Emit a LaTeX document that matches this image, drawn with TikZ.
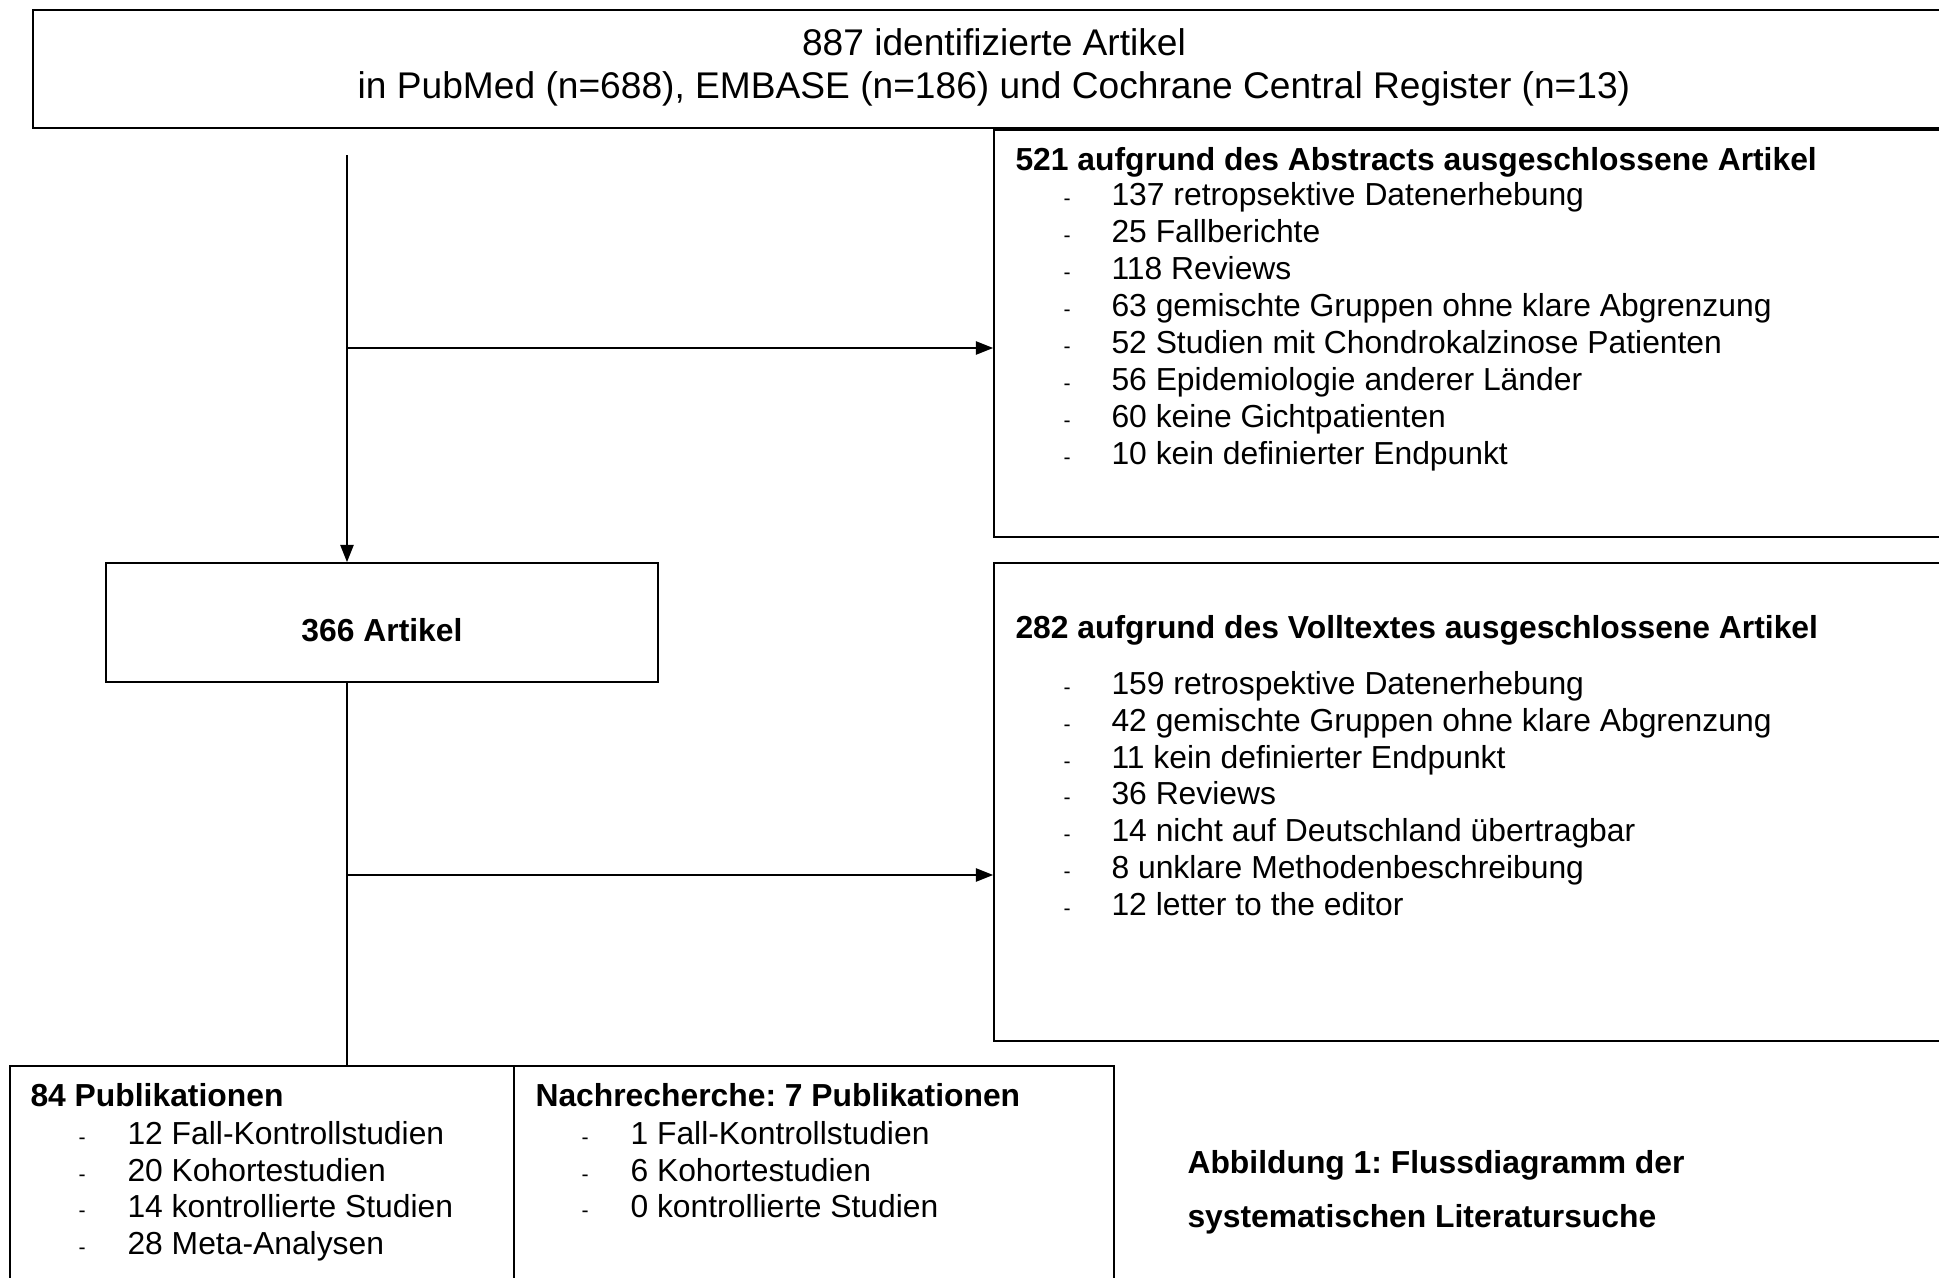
\documentclass[tikz,border=0pt]{standalone}
\usepackage{fontspec}
\setmainfont{Liberation Sans}
\usetikzlibrary{arrows.meta,fit}
\frenchspacing
\begin{document}
\begin{tikzpicture}[x=0.377pt,y=-0.377pt,
  box/.style={draw,line width=0.65pt,inner sep=0pt},
  conn/.style={line width=0.65pt},
  arr/.style={conn,-{Triangle[length=6.5pt,width=5pt]}},
  txt/.style={anchor=base west,inner sep=0pt,font=\fontsize{12}{14}\selectfont},
  hd/.style={anchor=base west,inner sep=0pt,font=\fontsize{12}{14}\selectfont\bfseries},
  dsh/.style={anchor=base west,inner sep=0pt,font=\fontsize{8}{8}\selectfont}]
\useasboundingbox (0,0) rectangle (1939,1277);
\clip (0,0) rectangle (1939,1277);

% boxes
\node[box,fit={(994,130)(1960,537)}] (ex1) {};
\node[box,line width=0.9pt,fit={(33,10)(1960,128)}] (top) {};
\node[box,fit={(106,563)(658,682)}] (art) {};
\node[box,fit={(994,563)(1960,1041)}] (ex2) {};
\node[box,fit={(10,1066)(514,1300)}] (pub) {};
\node[box,fit={(514,1066)(1114,1300)}] (nach) {};

% top text
\node[anchor=base,inner sep=0pt,font=\fontsize{14}{16}\selectfont] (t1) at (994,55) {887 identifizierte Artikel};
\node[anchor=base,inner sep=0pt,font=\fontsize{14}{16}\selectfont] (t2) at (994,98) {in PubMed (n=688), EMBASE (n=186) und Cochrane Central Register (n=13)};

% 366 Artikel
\node[anchor=base,inner sep=0pt,font=\fontsize{12}{14}\selectfont\bfseries] (artt) at (382,641) {366 Artikel};

% excluded by abstract
\node[hd] (h1) at (1015,170) {521 aufgrund des Abstracts ausgeschlossene Artikel};
\foreach \y/\t [count=\i] in {205/137 retropsektive Datenerhebung, 242/25 Fallberichte, 279/118 Reviews, 316/63 gemischte Gruppen ohne klare Abgrenzung, 353/52 Studien mit Chondrokalzinose Patienten, 390/56 Epidemiologie anderer Länder, 427/60 keine Gichtpatienten, 464/10 kein definierter Endpunkt}{
  \node[dsh] (ad\i) at (1063,\y) {-};
  \node[txt] (a\i) at (1111,\y) {\t};
}

% excluded by full text
\node[hd] (h2) at (1015,638) {282 aufgrund des Volltextes ausgeschlossene Artikel};
\foreach \y/\t [count=\i] in {694/159 retrospektive Datenerhebung, 731/42 gemischte Gruppen ohne klare Abgrenzung, 768/11 kein definierter Endpunkt, 804/36 Reviews, 841/14 nicht auf Deutschland übertragbar, 878/8 unklare Methodenbeschreibung, 915/12 letter to the editor}{
  \node[dsh] (bd\i) at (1063,\y) {-};
  \node[txt] (b\i) at (1111,\y) {\t};
}

% publications
\node[hd] (h3) at (30,1106) {84 Publikationen};
\foreach \y/\t [count=\i] in {1144/12 Fall-Kontrollstudien, 1181/20 Kohortestudien, 1217/14 kontrollierte Studien, 1254/28 Meta-Analysen}{
  \node[dsh] (cd\i) at (78,\y) {-};
  \node[txt] (c\i) at (127,\y) {\t};
}

\node[hd] (h4) at (535,1106) {Nachrecherche: 7 Publikationen};
\foreach \y/\t [count=\i] in {1144/1 Fall-Kontrollstudien, 1181/6 Kohortestudien, 1217/0 kontrollierte Studien}{
  \node[dsh] (dd\i) at (581,\y) {-};
  \node[txt] (d\i) at (630,\y) {\t};
}

% caption
\node[hd] (cap1) at (1187,1173) {Abbildung 1: Flussdiagramm der};
\node[hd] (cap2) at (1187,1227) {systematischen Literatursuche};

% connectors
\coordinate (s) at (347,155);
\coordinate (b1) at (347,348);
\coordinate (b2) at (347,875);
\draw[arr] (s) -- (s |- art.north);
\draw[arr] (b1) -- (b1 -| ex1.west);
\draw[conn] (s |- art.south) -- (s |- pub.north);
\draw[arr] (b2) -- (b2 -| ex2.west);
\end{tikzpicture}
\end{document}
